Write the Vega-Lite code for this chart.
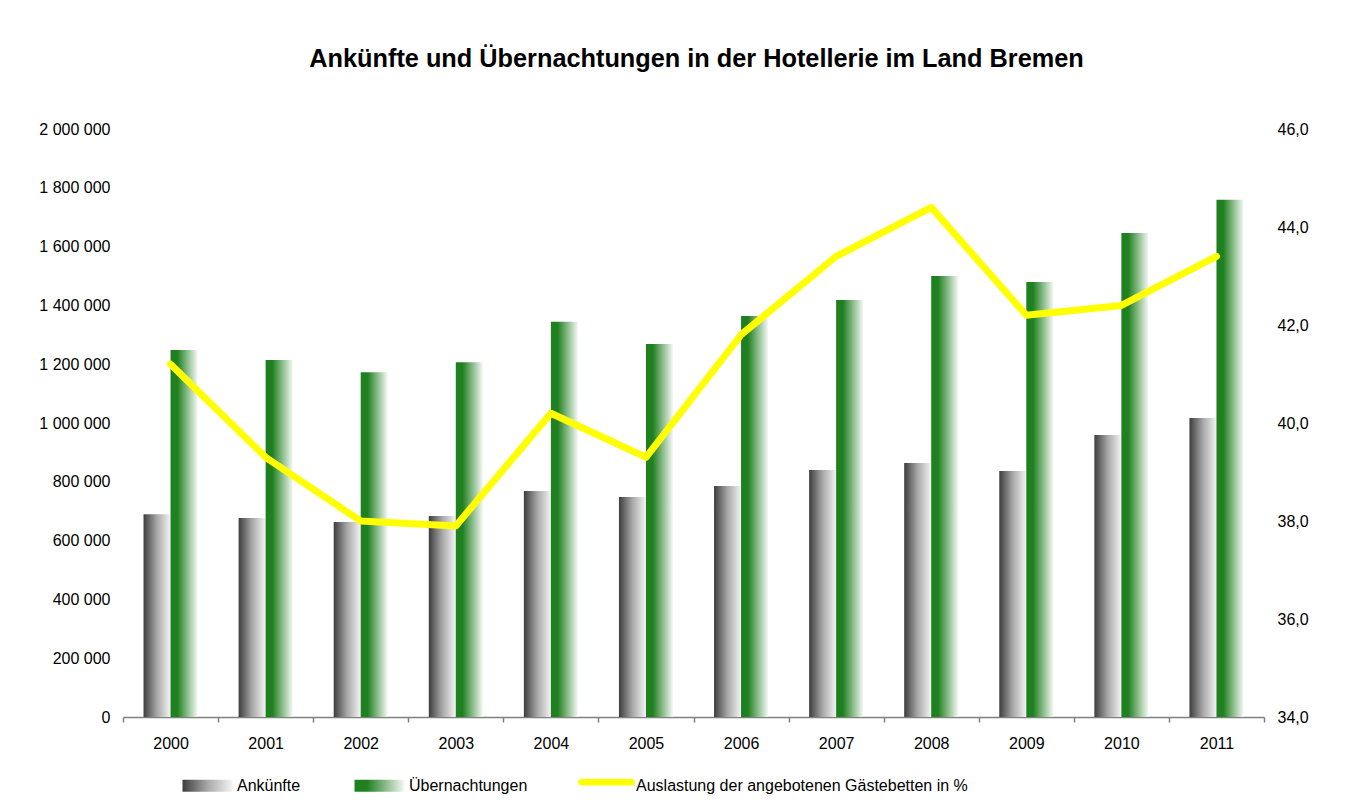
{
  "$schema": "https://vega.github.io/schema/vega-lite/v6.json",
  "width": 1141,
  "height": 588,
  "autosize": {"type": "none"},
  "padding": {"left": 123, "top": 129, "right": 94, "bottom": 94},
  "background": "#ffffff",
  "title": {
    "text": "Ankünfte und Übernachtungen in der Hotellerie im Land Bremen",
    "font": "Liberation Sans",
    "fontSize": 25.3,
    "fontWeight": "bold",
    "color": "#000000",
    "anchor": "middle",
    "frame": "group",
    "baseline": "alphabetic",
    "offset": 29,
    "dx": 3
  },
  "config": {
    "view": {"stroke": null},
    "locale": {
      "number": {"decimal": ",", "thousands": " ", "grouping": [3], "currency": ["", " €"]}
    },
    "axis": {
      "labelFont": "Liberation Sans",
      "labelFontSize": 16,
      "labelColor": "#000000",
      "grid": false,
      "title": null
    },
    "legend": {
      "labelFont": "Liberation Sans",
      "labelFontSize": 16,
      "labelColor": "#000000",
      "labelLimit": 600
    }
  },
  "datasets": {
    "bars": [
      {"year": "2000", "series": "Ankünfte", "value": 690000},
      {"year": "2000", "series": "Übernachtungen", "value": 1248000},
      {"year": "2001", "series": "Ankünfte", "value": 677000},
      {"year": "2001", "series": "Übernachtungen", "value": 1214000},
      {"year": "2002", "series": "Ankünfte", "value": 663000},
      {"year": "2002", "series": "Übernachtungen", "value": 1173000},
      {"year": "2003", "series": "Ankünfte", "value": 684000},
      {"year": "2003", "series": "Übernachtungen", "value": 1207000},
      {"year": "2004", "series": "Ankünfte", "value": 769000},
      {"year": "2004", "series": "Übernachtungen", "value": 1344000},
      {"year": "2005", "series": "Ankünfte", "value": 748000},
      {"year": "2005", "series": "Übernachtungen", "value": 1269000},
      {"year": "2006", "series": "Ankünfte", "value": 786000},
      {"year": "2006", "series": "Übernachtungen", "value": 1364000},
      {"year": "2007", "series": "Ankünfte", "value": 840000},
      {"year": "2007", "series": "Übernachtungen", "value": 1418000},
      {"year": "2008", "series": "Ankünfte", "value": 864000},
      {"year": "2008", "series": "Übernachtungen", "value": 1500000},
      {"year": "2009", "series": "Ankünfte", "value": 837000},
      {"year": "2009", "series": "Übernachtungen", "value": 1480000},
      {"year": "2010", "series": "Ankünfte", "value": 959000},
      {"year": "2010", "series": "Übernachtungen", "value": 1646000},
      {"year": "2011", "series": "Ankünfte", "value": 1017000},
      {"year": "2011", "series": "Übernachtungen", "value": 1759000}
    ],
    "line": [
      {"year": "2000", "auslastung": 41.2},
      {"year": "2001", "auslastung": 39.3},
      {"year": "2002", "auslastung": 38.0},
      {"year": "2003", "auslastung": 37.9},
      {"year": "2004", "auslastung": 40.2},
      {"year": "2005", "auslastung": 39.3},
      {"year": "2006", "auslastung": 41.8},
      {"year": "2007", "auslastung": 43.4},
      {"year": "2008", "auslastung": 44.4},
      {"year": "2009", "auslastung": 42.2},
      {"year": "2010", "auslastung": 42.4},
      {"year": "2011", "auslastung": 43.4}
    ]
  },
  "layer": [
    {
      "data": {"name": "bars"},
      "mark": {"type": "bar"},
      "encoding": {
        "x": {
          "field": "year",
          "type": "ordinal",
          "scale": {"paddingInner": 0, "paddingOuter": 0},
          "axis": {
            "labelAngle": 0,
            "tickBand": "extent",
            "tickSize": 5,
            "tickColor": "#808080",
            "domainColor": "#808080",
            "tickWidth": 1.5,
            "domainWidth": 1.5,
            "labelPadding": 13
          }
        },
        "xOffset": {
          "field": "series",
          "type": "nominal",
          "sort": ["Ankünfte", "Übernachtungen"],
          "scale": {"paddingInner": 0, "paddingOuter": 0.76}
        },
        "y": {
          "field": "value",
          "type": "quantitative",
          "scale": {"domain": [0, 2000000]},
          "axis": {
            "orient": "left",
            "domain": false,
            "ticks": false,
            "labelPadding": 13,
            "values": [0, 200000, 400000, 600000, 800000, 1000000, 1200000, 1400000, 1600000, 1800000, 2000000],
            "format": ",d"
          }
        },
        "color": {
          "field": "series",
          "type": "nominal",
          "scale": {
            "domain": ["Ankünfte", "Übernachtungen", "Auslastung der angebotenen Gästebetten in %"],
            "range": [
              {"expr": "{gradient: 'linear', x1: 0, y1: 0, x2: 1, y2: 0, stops: [{offset: 0, color: '#3d3d3d'}, {offset: 0.5, color: '#a8a8a8'}, {offset: 1, color: '#f4f4f4'}]}"},
              {"expr": "{gradient: 'linear', x1: 0, y1: 0, x2: 1, y2: 0, stops: [{offset: 0, color: '#1f801f'}, {offset: 0.25, color: '#1f801f'}, {offset: 1, color: '#f6f8f6'}]}"},
              "#ffff00"
            ]
          },
          "legend": {
            "title": null,
            "orient": "none",
            "direction": "horizontal",
            "legendX": 56,
            "legendY": 628,
            "padding": 0,
            "columnPadding": 50,
            "labelOffset": 1,
            "symbolSize": 3249,
            "symbolStrokeWidth": 0,
            "symbolOpacity": 1,
            "symbolType": {"expr": "(datum.value === 'Ankünfte' || datum.value === 'Übernachtungen') ? 'M-0.877,-0.21H0.877V0.21H-0.877Z' : 'M-0.877,-0.245H0.877A0.12,0.12 0 0 1 0.877,-0.005H-0.877A0.12,0.12 0 0 1 -0.877,-0.245Z'"}
          }
        }
      }
    },
    {
      "data": {"name": "line"},
      "mark": {"type": "line", "color": "#ffff00", "strokeWidth": 7, "strokeCap": "round", "strokeJoin": "round"},
      "encoding": {
        "x": {"field": "year", "type": "ordinal"},
        "y": {
          "field": "auslastung",
          "type": "quantitative",
          "scale": {"domain": [34, 46], "zero": false},
          "axis": {
            "orient": "right",
            "domain": false,
            "ticks": false,
            "labelPadding": 13,
            "values": [34, 36, 38, 40, 42, 44, 46],
            "format": ".1f"
          }
        }
      }
    }
  ],
  "resolve": {"scale": {"y": "independent"}}
}
